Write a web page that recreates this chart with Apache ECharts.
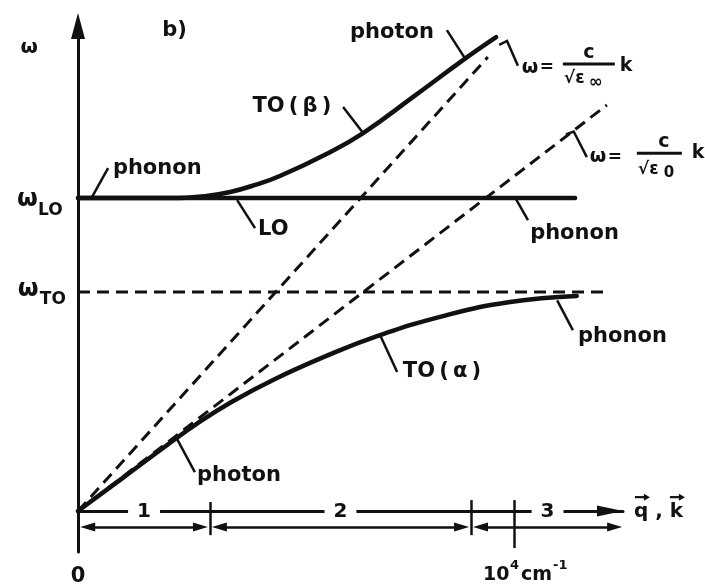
<!DOCTYPE html>
<html>
<head>
<meta charset="utf-8">
<script src="https://cdn.jsdelivr.net/npm/echarts@6/dist/echarts.min.js"></script>
<style>
  html, body { margin: 0; padding: 0; background: #ffffff; }
  #chart { width: 705px; height: 588px; }
</style>
</head>
<body>
<div id="chart"></div>
<script>
// Phonon-polariton dispersion. k in units of 10^4 cm^-1, ω in units of ω_TO.
const omegaTO = 1.0;
const omegaLO = 1.429;
const loLineEnd = 1.14;        // extent of the flat LO phonon line
const toLineEnd = 1.216;       // extent of the dashed ω_TO level

// light lines ω = c k / √ε∞ and ω = c k / √ε0 (origin to these end points)
const lightInfEnd = [0.940, 2.073];
const lightZeroEnd = [1.213, 1.854];

// upper branch: LO phonon → TO(β) → photon
const upperK = [0, 0.211, 0.291, 0.349, 0.406, 0.463, 0.578, 0.654, 0.768, 0.883, 0.959];
const upperW = [1.429, 1.429, 1.438, 1.457, 1.489, 1.530, 1.639, 1.726, 1.890, 2.059, 2.164];

// lower branch: photon → TO(α) → phonon
const lowerK = [0, 0.099, 0.200, 0.273, 0.351, 0.452, 0.567, 0.686, 0.846, 0.991, 1.144];
const lowerW = [0, 0.146, 0.295, 0.399, 0.497, 0.603, 0.706, 0.799, 0.895, 0.955, 0.982];

// k-axis region boundaries and the 10^4 cm^-1 mark
const tickK = [0.303, 0.901, 1.0];
const tickTop = [0.041, 0.050, 0.050];
const tickBottom = [-0.110, -0.110, -0.169];

// regions 1, 2, 3 below the k axis (arrow tip to arrow tip)
const regionNames = ['1', '2', '3'];
const regionStart = [0.005, 0.307, 0.906];
const regionEnd = [0.298, 0.897, 1.248];
const regionLevel = -0.073;

const ink = '#111111';
const FONT = '"DejaVu Sans", "Liberation Sans", sans-serif';
const ARROW_LEN = 15;   // arrowhead length of the region markers, px

function pairs(xs, ys) { return xs.map((x, i) => [x, ys[i]]); }

const chart = echarts.init(document.getElementById('chart'), null, { renderer: 'canvas' });

const solid = { color: ink, width: 4.5, type: 'solid', cap: 'round' };
const dashed = { color: ink, width: 3, type: [12, 7] };

const curves = [
  { type: 'line', name: 'ωTO', data: [[0, omegaTO], [toLineEnd, omegaTO]],
    showSymbol: false, lineStyle: dashed },
  { type: 'line', name: 'c/√ε∞', data: [[0, 0], lightInfEnd],
    showSymbol: false, lineStyle: dashed },
  { type: 'line', name: 'c/√ε0', data: [[0, 0], lightZeroEnd],
    showSymbol: false, lineStyle: dashed },
  { type: 'line', name: 'LO', data: [[0, omegaLO], [loLineEnd, omegaLO]],
    showSymbol: false, lineStyle: solid },
  { type: 'line', name: 'upper', data: pairs(upperK, upperW), smooth: 0.45,
    showSymbol: false, lineStyle: solid },
  { type: 'line', name: 'lower', data: pairs(lowerK, lowerW), smooth: 0.45,
    showSymbol: false, lineStyle: solid }
];

chart.setOption({
  animation: false,
  backgroundColor: '#ffffff',
  grid: { left: 78, right: 82, top: 26, bottom: 36 },
  xAxis: {
    type: 'value', min: 0, max: 1.25,
    axisLine: { onZero: true, symbol: ['none', 'triangle'], symbolSize: [11, 26],
                symbolOffset: [0, -13],
                lineStyle: { color: ink, width: 3 } },
    axisTick: { show: false }, axisLabel: { show: false }, splitLine: { show: false }
  },
  yAxis: {
    type: 'value', min: -0.187, max: 2.215,
    axisLine: { show: true, onZero: true, symbol: ['none', 'triangle'], symbolSize: [14, 26],
                lineStyle: { color: ink, width: 3 } },
    axisTick: { show: false }, axisLabel: { show: false }, splitLine: { show: false }
  },
  series: curves
});

// pixel length of one k unit, used to set arrowhead centres back from the tips
const pxPerK = chart.convertToPixel({ gridIndex: 0 }, [1, 0])[0] - chart.convertToPixel({ gridIndex: 0 }, [0, 0])[0];
const inset = (ARROW_LEN / 2) / pxPerK;

const markers = [
  { type: 'line', name: 'marks', data: [], clip: false,
    markLine: {
      silent: true, symbol: ['none', 'none'], animation: false,
      lineStyle: { color: ink, width: 2.5, type: 'solid' },
      label: { show: false },
      data: tickK.map((k, i) => [{ coord: [k, tickTop[i]] }, { coord: [k, tickBottom[i]] }])
    } },
  { type: 'line', name: 'regions', data: [], clip: false,
    markLine: {
      silent: true, symbol: ['triangle', 'triangle'], symbolSize: [9, ARROW_LEN], animation: false,
      lineStyle: { color: ink, width: 2.5, type: 'solid' },
      label: { show: true, position: 'middle', formatter: '{b}', color: ink,
               fontFamily: FONT, fontWeight: 'bold', fontSize: 20,
               backgroundColor: '#ffffff', padding: [0, 9] },
      data: regionNames.map((n, i) => [
        { name: n, coord: [regionStart[i] + inset, regionLevel] },
        { coord: [regionEnd[i] - inset, regionLevel] }
      ])
    } }
];

chart.setOption({ series: curves.concat(markers) });

// ---- annotations (anchored in k, ω coordinates) ----
const px = (k, w) => chart.convertToPixel({ gridIndex: 0 }, [k, w]);

function text(str, k, w, size, align, dx, dy) {
  const p = px(k, w);
  return { type: 'text', x: p[0] + (dx || 0), y: p[1] + (dy || 0), silent: true,
    style: { text: str, fill: ink, font: 'bold ' + size + 'px ' + FONT,
             textAlign: align || 'left', textVerticalAlign: 'middle', verticalAlign: 'middle' } };
}
function leader(points) {
  return { type: 'polyline', silent: true,
    shape: { points: points.map(p => px(p[0], p[1])) },
    style: { stroke: ink, lineWidth: 2.5, fill: null } };
}
function rel(k, w, dx1, dy1, dx2, dy2, lw) {
  const p = px(k, w);
  return { type: 'line', silent: true,
    shape: { x1: p[0] + dx1, y1: p[1] + dy1, x2: p[0] + dx2, y2: p[1] + dy2 },
    style: { stroke: ink, lineWidth: lw || 3 } };
}

const TS = '\u2009';
const g = [];
// axis titles and level labels
g.push(text('b)', 0.193, 2.192, 21));
g.push(text('ω', -0.112, 2.114, 20, 'center'));
g.push(text('ω', -0.140, 1.420, 24));
g.push(text('LO', -0.140, 1.420, 17, 'left', 21, 10));
g.push(text('ω', -0.138, 1.010, 24));
g.push(text('TO', -0.138, 1.010, 17, 'left', 22, 10));
g.push(text('0', 0, -0.301, 21, 'center'));

// branch names with their pointers
g.push(leader([[0.032, 1.434], [0.069, 1.566]]));
g.push(text('phonon', 0.080, 1.562, 21));
g.push(leader([[0.365, 1.420], [0.406, 1.292]]));
g.push(text('LO', 0.413, 1.286, 21));
g.push(leader([[0.608, 1.845], [0.654, 1.726]]));
g.push(text('TO' + TS + '(' + TS + 'β' + TS + ')', 0.400, 1.845, 21));
g.push(leader([[0.846, 2.196], [0.888, 2.066]]));
g.push(text('photon', 0.624, 2.187, 21));
g.push(leader([[1.002, 1.434], [1.032, 1.329]]));
g.push(text('phonon', 1.037, 1.265, 21));
g.push(leader([[1.099, 0.962], [1.135, 0.826]]));
g.push(text('phonon', 1.147, 0.795, 21));
g.push(leader([[0.693, 0.803], [0.732, 0.635]]));
g.push(text('TO' + TS + '(' + TS + 'α' + TS + ')', 0.745, 0.635, 21));
g.push(leader([[0.227, 0.330], [0.268, 0.178]]));
g.push(text('photon', 0.273, 0.160, 21));

// ω = c/√ε∞ k
g.push(leader([[0.966, 2.129], [0.984, 2.147], [1.009, 2.033]]));
const e1 = [1.018, 2.023];
g.push(text('ω', e1[0], e1[1], 19, 'left', 0, 0));
g.push(text('=', e1[0], e1[1], 17, 'left', 18, 0));
g.push(text('c', e1[0], e1[1], 19, 'center', 67, -15));
g.push(rel(e1[0], e1[1], 41, -4, 93, -4, 3));
g.push(text('√ε', e1[0], e1[1], 17, 'left', 42, 11));
g.push(text('∞', e1[0], e1[1], 17, 'left', 67, 15));
g.push(text('k', e1[0], e1[1], 19, 'left', 98, -2));

// ω = c/√ε0 k
g.push(leader([[1.119, 1.720], [1.137, 1.733], [1.167, 1.616]]));
const e2 = [1.174, 1.616];
g.push(text('ω', e2[0], e2[1], 19, 'left', 0, 0));
g.push(text('=', e2[0], e2[1], 17, 'left', 18, 0));
g.push(text('c', e2[0], e2[1], 19, 'center', 74, -15));
g.push(rel(e2[0], e2[1], 47, -4, 92, -4, 3));
g.push(text('√ε', e2[0], e2[1], 17, 'left', 48, 12));
g.push(text('0', e2[0], e2[1], 15, 'left', 74, 16));
g.push(text('k', e2[0], e2[1], 19, 'left', 102, -4));

// k-axis title with vector arrows, and the unit mark
const qk = [1.275, -0.005];
g.push(text('q , k', qk[0], qk[1], 20));
[[1, 13], [36, 48]].forEach(s => {
  g.push(rel(qk[0], qk[1], s[0], -15, s[1], -15, 2.2));
  const p = px(qk[0], qk[1]);
  g.push({ type: 'polygon', silent: true,
    shape: { points: [[p[0] + s[1] + 3, p[1] - 15], [p[0] + s[1] - 3, p[1] - 18.5], [p[0] + s[1] - 3, p[1] - 11.5]] },
    style: { fill: ink } });
});
const unit = [0.929, -0.283];
g.push(text('10', unit[0], unit[1], 19, 'left', 0, 2));
g.push(text('4', unit[0], unit[1], 13, 'left', 27, -7));
g.push(text('cm', unit[0], unit[1], 19, 'left', 38, 2));
g.push(text('-1', unit[0], unit[1], 13, 'left', 70, -7));

chart.setOption({ graphic: g });
</script>
</body>
</html>
